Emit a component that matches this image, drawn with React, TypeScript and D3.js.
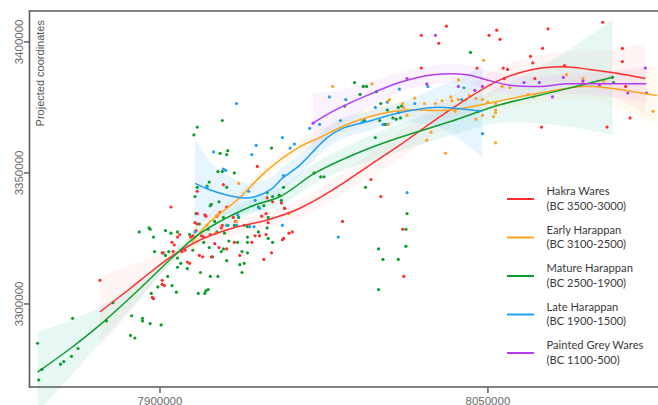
import React, { useEffect, useRef } from "react";
import * as d3 from "d3";

// values in thousands of metres (projected coordinates)
const xTicks = [7900000, 8050000];
const yTicks = [3300000, 3350000, 3400000];
const xLabel = "";
const yLabel = "Projected coordinates";

const seriesNames = ["Hakra Wares", "Early Harappan", "Mature Harappan", "Late Harappan", "Painted Grey Wares"];
const seriesPeriods = ["(BC 3500-3000)", "(BC 3100-2500)", "(BC 2500-1900)", "(BC 1900-1500)", "(BC 1100-500)"];
const seriesColors = ["#ff2e2e", "#ffa21f", "#0c9e2c", "#1e9ff2", "#b43cf2"];
const bandColors = ["#ff9c9c", "#ffcf80", "#6fd8bf", "#8dd0ff", "#dc9cf4"];
const bandOpacity = [0.1, 0.13, 0.17, 0.22, 0.13];

const hakraPoints: [number, number][] = [
  [7872.5, 3309], [7905, 3337], [7909, 3326.5], [7908, 3325.5], [7905.5, 3323.5], [7906.5, 3322.5], [7906, 3320], [7910, 3320],
  [7901, 3319.5], [7912.5, 3316], [7913.5, 3315.5], [7901, 3309], [7901, 3307.5], [7902, 3307], [7896.5, 3302.5], [7897, 3302],
  [7917, 3334.5], [7920.5, 3334], [7914, 3325.5], [7916.5, 3328], [7919, 3326], [7923, 3326.5], [7918, 3318.5], [7919.5, 3318],
  [7923.5, 3318], [7944.5, 3352.5], [7917, 3343], [7949, 3340.5], [7951.5, 3339], [7955.5, 3338.5], [7930.5, 3337], [7927.5, 3335],
  [7921, 3333.5], [7926, 3333.5], [7933.5, 3333], [7946.5, 3333.5], [7948.5, 3334.5], [7957, 3336.5], [7917, 3330.5], [7928, 3329],
  [7934.5, 3331.5], [7943.5, 3326], [7945.5, 3326], [7948.5, 3326.5], [7915, 3326], [7916, 3331], [7920, 3325.5], [7928.5, 3330],
  [7949.5, 3331], [7942, 3323.5], [7934, 3323.5], [7956.5, 3325], [7951, 3319.5], [7947.5, 3317], [7936.5, 3318.5], [7925, 3323],
  [7927, 3321.5], [7930.5, 3321], [7911.5, 3320.5], [8001, 3341], [7983.5, 3331.5], [8011, 3328.5], [8011.5, 3310.5], [7960.5, 3327.5],
  [7959, 3327], [7956, 3324.5], [7929, 3345.5], [7996.5, 3347.5], [8019.5, 3402.5], [8019.5, 3390], [8031, 3406], [8027.5, 3399.5],
  [8050.5, 3402.5], [8054, 3404.5], [8055.5, 3401], [8077.5, 3405], [8102.5, 3407.5], [8069.5, 3394.5], [8075, 3397.5], [8070.5, 3392],
  [8045, 3390], [8057, 3390], [8059, 3389.5], [8085, 3391], [8111.5, 3397.5], [8111.5, 3392.5], [8057.5, 3386], [8071.5, 3386],
  [8113, 3383], [8115, 3371], [8074.5, 3367.5], [8104.5, 3367.5],
];

const earlyPoints: [number, number][] = [
  [7936, 3346], [7926.5, 3334], [7921.5, 3330], [7925.5, 3327], [7935, 3331.5], [7959, 3334.5], [7979, 3383], [7997, 3384],
  [8004.5, 3377.5], [8005, 3378], [8004.5, 3368.5], [8013, 3372], [8016.5, 3378.5], [8022, 3362.5], [8048, 3393], [8036.5, 3385.5],
  [8056.5, 3383], [8060, 3382.5], [8086, 3387.5], [8093.5, 3386], [8103, 3385], [8125.5, 3373.5], [8068.5, 3380], [8071, 3379],
  [8011, 3376.5], [8011.5, 3375], [8021, 3376.5], [8026, 3376.5], [8029, 3377.5], [8033, 3379], [8033.5, 3377.5], [8036.5, 3378],
  [8040, 3378], [8041.5, 3379.5], [8044.5, 3378.5], [8047.5, 3378], [8050, 3377], [8053.5, 3376.5], [8053.5, 3374], [8053.5, 3373],
  [8052.5, 3371.5], [8047.5, 3372], [8044.5, 3370.5], [8035, 3373.5], [8024, 3365.5], [8053.5, 3361.5], [8030.5, 3357.5],
];

const maturePoints: [number, number][] = [
  [7844, 3285], [7844.5, 3271], [7846, 3275], [7860, 3294.5], [7862.5, 3283], [7859.5, 3280], [7856, 3278], [7854.5, 3277],
  [7878.5, 3300.5], [7875.5, 3293.5], [7887, 3295.5], [7892, 3293.5], [7895.5, 3292.5], [7900.5, 3292], [7886.5, 3288], [7888.5, 3287],
  [7890.5, 3327.5], [7895.5, 3328.5], [7897, 3325.5], [7902.5, 3328], [7905, 3327], [7908, 3327.5], [7897.5, 3320], [7902.5, 3318.5],
  [7904, 3320], [7908, 3317.5], [7909.5, 3315.5], [7908, 3314], [7912.5, 3313.5], [7903.5, 3310.5], [7905.5, 3307], [7907.5, 3304.5],
  [7896, 3304], [7899, 3306.5], [7918.5, 3312], [7923, 3310.5], [7917.5, 3304], [7920.5, 3304], [7922, 3305.5], [7923, 3337.5],
  [7918, 3330.5], [7922, 3328.5], [7920, 3323.5], [7922.5, 3321.5], [7915, 3320.5], [7926.5, 3310.5], [7928.5, 3370], [7917, 3367.5],
  [7915.5, 3364.5], [7951, 3359.5], [7931, 3358.5], [7930.5, 3357], [7927.5, 3357.5], [7926.5, 3350.5], [7928.5, 3350.5], [7934, 3350],
  [7922.5, 3346.5], [7921.5, 3345], [7930.5, 3344.5], [7917, 3344.5], [7916, 3341], [7956.5, 3344.5], [7951.5, 3341], [7923.5, 3338],
  [7927, 3339], [7945, 3337], [7947.5, 3337.5], [7916.5, 3334.5], [7929, 3333], [7936, 3333], [7949.5, 3333], [7931, 3330],
  [7940, 3329.5], [7945, 3327.5], [7949, 3329], [7895, 3329], [7913.5, 3326.5], [7925, 3331.5], [7926, 3327.5], [7929.5, 3327],
  [7934, 3330], [7938.5, 3330], [7949.5, 3325], [7940, 3325.5], [7940, 3323.5], [7935.5, 3323.5], [7931.5, 3324], [7951.5, 3323.5],
  [7940, 3319.5], [7937.5, 3320], [7930.5, 3316.5], [7938.5, 3315.5], [7936.5, 3315], [7937.5, 3312], [7929, 3321], [7928, 3320],
  [7924, 3318], [7921, 3305], [7892, 3294.5], [7901.5, 3319.5], [7994, 3344.5], [8013, 3334.5], [8012.5, 3328.5], [8012.5, 3322],
  [8000, 3321], [8002, 3317], [8009, 3317], [8000, 3305.5], [7957, 3336.5], [7955.5, 3339.5], [7954.5, 3341.5], [7949, 3342.5],
  [7970.5, 3350], [7973.5, 3348.5], [7975, 3348.5], [7984.5, 3375.5], [7989, 3384.5], [7991.5, 3380], [7993, 3383], [7994.5, 3383],
  [7999, 3381], [8001, 3376.5], [8004, 3374], [8000.5, 3370], [8003, 3368.5], [8008, 3370.5], [8010, 3371], [8009, 3375],
  [8010.5, 3375.5], [7998.5, 3363.5], [7993.5, 3370], [8006.5, 3371], [8042, 3396], [8045.5, 3373.5], [8107, 3386.5], [8107.5, 3384.5],
];

const latePoints: [number, number][] = [
  [7935, 3376.5], [7944, 3360.5], [7956, 3363.5], [7942, 3357], [7924.5, 3358], [7929, 3351.5], [7930, 3351], [7921.5, 3344.5],
  [7940.5, 3343], [7943.5, 3339.5], [7945.5, 3336.5], [7935.5, 3334], [7956, 3330], [7941, 3329.5], [7943, 3329.5], [7916, 3327.5],
  [7930.5, 3330], [7935, 3330], [7959.5, 3359.5], [7961.5, 3361], [7956.5, 3349], [7968.5, 3367], [7973, 3368.5], [7977.5, 3379],
  [7982.5, 3370], [7985, 3378], [7998.5, 3375], [8004, 3368.5], [8009.5, 3382], [8016.5, 3376.5], [8022.5, 3383], [8039, 3382.5],
  [8038, 3378], [8047.5, 3365], [8013, 3342.5], [7981.5, 3325.5], [7992.5, 3369.5], [8002, 3368.5], [8004, 3377], [8009, 3373],
];

const greyWarePoints: [number, number][] = [
  [7970, 3369], [8013, 3386], [8022, 3384], [8026, 3402.5], [8036.5, 3383], [8047.5, 3383], [8044, 3381.5], [8066.5, 3384.5],
  [8073.5, 3384.5], [8084.5, 3386.5], [8093.5, 3385], [8101, 3383.5], [8122, 3390], [8114, 3380.5], [8122.5, 3380.5], [8079.5, 3379],
];

// smoothed trend [x, y, half-width of confidence band]
const hakraTrend: [number, number, number][] = [
  [7872.5, 3297, 13.4], [7886.5, 3306, 9], [7895.5, 3312, 5.5], [7906, 3318.5, 2.6], [7918.5, 3324.5, 2.4], [7933.5, 3329, 2.8],
  [7949, 3332, 3], [7964, 3336.5, 3.4], [7979, 3343.5, 3.8], [7996, 3353, 4.6], [8009.5, 3360.5, 5.3], [8032.5, 3374, 5],
  [8055.5, 3385.5, 4.6], [8070.5, 3389.5, 5], [8084.5, 3390.5, 5.7], [8096.5, 3389.5, 7], [8109, 3388, 9.5], [8122, 3386, 13.4],
];
const earlyTrend: [number, number, number][] = [
  [7914.5, 3323.5, 4.6], [7923, 3331.5, 3], [7935, 3339.5, 2], [7949, 3351, 2.4], [7964, 3360, 3], [7973, 3363.5, 3],
  [7985.5, 3368.5, 3], [8000.5, 3372.5, 3], [8013, 3374, 3], [8032.5, 3374, 3], [8055.5, 3377.5, 3], [8070.5, 3380, 3.6],
  [8093.5, 3383, 4.6], [8104.5, 3382.5, 6], [8116.5, 3381, 8.5], [8127.5, 3379.5, 11.5],
];
const matureTrend: [number, number, number][] = [
  [7844, 3274, 15.3], [7859, 3283, 10.7], [7872.5, 3292, 6.9], [7891, 3306, 3.8], [7906, 3318, 1.9], [7918.5, 3327, 2.2],
  [7941, 3337, 3], [7955, 3341, 3.4], [7971, 3350, 3.8], [7991.5, 3358, 4.6], [8009.5, 3363.5, 5.3], [8032.5, 3369.5, 5.3],
  [8055.5, 3376, 6.9], [8083, 3381.5, 13.4], [8107, 3386.5, 22],
];
const lateTrend: [number, number, number][] = [
  [7916, 3346, 17.2], [7923, 3343.5, 10.7], [7933.5, 3341, 6.9], [7941, 3340.5, 5.5], [7950.5, 3343.5, 4.6], [7956, 3348, 4.2],
  [7964, 3353, 3.8], [7971, 3359, 3.8], [7976.5, 3363.5, 3.8], [7983.5, 3367, 3.8], [7994.5, 3369.5, 3.8], [8009.5, 3373, 3.8],
  [8025, 3375, 7], [8037, 3374.5, 11.5], [8047.5, 3373.5, 18],
];
const greyWareTrend: [number, number, number][] = [
  [7970, 3369, 11.5], [7979, 3373.5, 7.6], [7994.5, 3379.5, 5], [8009.5, 3384.5, 3.8], [8025, 3387.5, 3.6], [8040.5, 3387.5, 3.6],
  [8049.5, 3385.5, 3.6], [8060, 3383.5, 3.8], [8073.5, 3383, 3.8], [8086, 3384, 4], [8101, 3384, 4.6], [8122.5, 3384, 6.9],
];

const allPoints = [hakraPoints, earlyPoints, maturePoints, latePoints, greyWarePoints];
const allTrends = [hakraTrend, earlyTrend, matureTrend, lateTrend, greyWareTrend];
const pointOrder = [2, 0, 3, 1, 4];

const K = 1000;

export default function App() {
  const ref = useRef<SVGSVGElement>(null);
  useEffect(() => {
    const svg = d3.select(ref.current);
    svg.selectAll("*").remove();
    const x = d3.scaleLinear().domain([7840300, 8127800]).range([29.5, 658]);
    const y = d3.scaleLinear().domain([3268300, 3411800]).range([387, 11]);

    const gBands = svg.append("g");
    allTrends.forEach((t, i) => {
      const area = d3
        .area<[number, number, number]>()
        .x((d) => x(d[0] * K))
        .y0((d) => y((d[1] - d[2]) * K))
        .y1((d) => y((d[1] + d[2]) * K))
        .curve(d3.curveCatmullRom.alpha(0.5));
      gBands
        .append("path")
        .attr("d", area(t) as string)
        .attr("fill", bandColors[i])
        .attr("fill-opacity", bandOpacity[i]);
    });

    const gPts = svg.append("g");
    pointOrder.forEach((i) => {
      gPts
        .selectAll(null)
        .data(allPoints[i])
        .enter()
        .append("circle")
        .attr("cx", (d) => x(d[0] * K))
        .attr("cy", (d) => y(d[1] * K))
        .attr("r", 1.6)
        .attr("fill", seriesColors[i]);
    });

    const gLines = svg.append("g");
    allTrends.forEach((t, i) => {
      const line = d3
        .line<[number, number, number]>()
        .x((d) => x(d[0] * K))
        .y((d) => y(d[1] * K))
        .curve(d3.curveCatmullRom.alpha(0.5));
      gLines
        .append("path")
        .attr("d", line(t) as string)
        .attr("fill", "none")
        .attr("stroke", seriesColors[i])
        .attr("stroke-width", 1.5);
    });

    // frame / axes
    const ax = svg.append("g").attr("stroke", "#5a5a5a").attr("stroke-width", 1.6).attr("fill", "none");
    ax.append("line").attr("x1", 29.5).attr("x2", 29.5).attr("y1", 11).attr("y2", 387.5);
    ax.append("line").attr("x1", 28.7).attr("x2", 658).attr("y1", 11).attr("y2", 11);
    ax.append("line").attr("x1", 28.7).attr("x2", 658).attr("y1", 387).attr("y2", 387);

    const axT = svg.append("g");
    yTicks.forEach((v) => {
      axT.append("line").attr("x1", 24).attr("x2", 29.5).attr("y1", y(v)).attr("y2", y(v)).attr("stroke", "#5a5a5a").attr("stroke-width", 1.4);
      axT
        .append("text")
        .attr("transform", `translate(23,${y(v)}) rotate(-90)`)
        .attr("text-anchor", "middle")
        .attr("font-family", "Liberation Sans, Arial, sans-serif")
        .attr("font-size", 11.5)
        .attr("fill", "#6a6a6a")
        .text(String(v));
    });
    xTicks.forEach((v) => {
      axT.append("line").attr("x1", x(v)).attr("x2", x(v)).attr("y1", 387).attr("y2", 393).attr("stroke", "#5a5a5a").attr("stroke-width", 1.4);
      axT
        .append("text")
        .attr("x", x(v))
        .attr("y", 404.5)
        .attr("text-anchor", "middle")
        .attr("font-family", "Liberation Sans, Arial, sans-serif")
        .attr("font-size", 11.5)
        .attr("fill", "#6a6a6a")
        .text(String(v));
    });
    axT
      .append("text")
      .attr("transform", `translate(44,20) rotate(-90)`)
      .attr("text-anchor", "end")
      .attr("font-family", "Liberation Sans, Arial, sans-serif")
      .attr("font-size", 11)
      .attr("fill", "#555")
      .text(yLabel);
    if (xLabel) axT.append("text").text(xLabel);

    // legend
    const lg = svg.append("g");
    seriesNames.forEach((name, i) => {
      const ly = 199 + 38.5 * i;
      lg.append("line").attr("x1", 507).attr("x2", 534).attr("y1", ly).attr("y2", ly).attr("stroke", seriesColors[i]).attr("stroke-width", 2);
      lg.append("text")
        .attr("x", 546.5)
        .attr("y", ly - 4)
        .attr("font-family", "Lato, 'Open Sans', sans-serif")
        .attr("font-size", 11.2)
        .attr("fill", "#3a3a3a")
        .text(name);
      lg.append("text")
        .attr("x", 546.5)
        .attr("y", ly + 10.5)
        .attr("font-family", "Lato, 'Open Sans', sans-serif")
        .attr("font-size", 11.2)
        .attr("fill", "#3a3a3a")
        .text(seriesPeriods[i]);
    });
  }, []);
  return (
    <svg
      ref={ref}
      width={658}
      height={405}
      style={{ position: "absolute", left: 0, top: 0, background: "#fff" }}
    />
  );
}
